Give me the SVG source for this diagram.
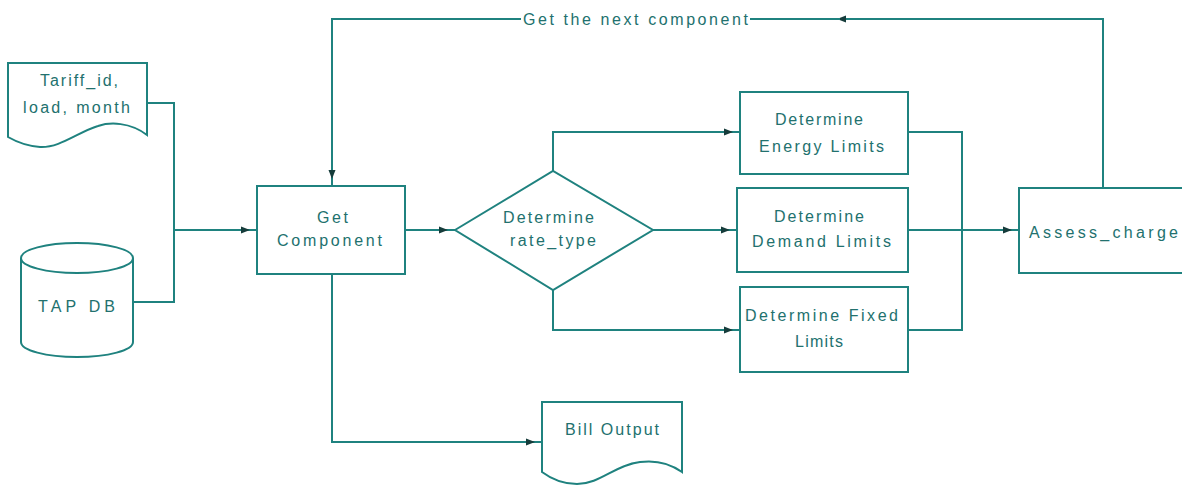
<svg xmlns="http://www.w3.org/2000/svg" width="1182" height="487" viewBox="0 0 1182 487">
<style>
.s{fill:#fff;stroke:#1f827f;stroke-width:2}
.c{fill:none;stroke:#1f827f;stroke-width:2}
.t{font-family:"Liberation Sans",Arial,sans-serif;font-size:16px;fill:#22716e}
</style>
<defs>
<marker id="a" markerUnits="userSpaceOnUse" markerWidth="18" markerHeight="10" viewBox="0 -5 18 10" refX="16" refY="0" orient="auto">
<path d="M0,-3.5 L9,0 L0,3.5 Z" fill="#163c3b"/>
</marker>
</defs>
<rect width="1182" height="487" fill="#fff"/>
<g id="connectors">
<path class="c" d="M147,103 H174 V302 H133"/>
<path class="c" d="M174,230 H257" marker-end="url(#a)"/>
<path class="c" d="M405,230 H455" marker-end="url(#a)"/>
<path class="c" d="M553,171 V132 H740" marker-end="url(#a)"/>
<path class="c" d="M653,230 H737" marker-end="url(#a)"/>
<path class="c" d="M553,290 V330 H740" marker-end="url(#a)"/>
<path class="c" d="M908,132 H962 V330 H908"/>
<path class="c" d="M908,230 H1019" marker-end="url(#a)"/>
<path class="c" d="M332,274 V442 H542" marker-end="url(#a)"/>
<path class="c" d="M1103,188 V19 H830" marker-end="url(#a)"/>
<path class="c" d="M840,19 H750"/>
<path class="c" d="M521,19 H332 V186" marker-end="url(#a)"/>
<text class="t" x="523" y="25" textLength="225" lengthAdjust="spacing">Get the next component</text>
</g>
<g id="tariff">
<path class="s" d="M8,63 H147 V135 C130,122 110,122 98,126 C78,132 60,148 40,147 C25,146 15,141 8,137 Z"/>
<text class="t" x="40" y="86" textLength="78" lengthAdjust="spacing">Tariff_id,</text>
<text class="t" x="23" y="113" textLength="107" lengthAdjust="spacing">load, month</text>
</g>
<g id="tapdb">
<path class="s" d="M21,258 V342 A56,15 0 0 0 133,342 V258 A56,15 0 0 0 21,258 Z"/>
<path class="c" d="M21,258 A56,15 0 0 0 133,258"/>
<text class="t" x="38" y="312" textLength="77" lengthAdjust="spacing">TAP DB</text>
</g>
<g id="getcomponent">
<rect class="s" x="257" y="186" width="148" height="88"/>
<text class="t" x="317" y="223" textLength="31" lengthAdjust="spacing">Get</text>
<text class="t" x="277" y="246" textLength="105" lengthAdjust="spacing">Component</text>
</g>
<g id="ratetype">
<path class="s" d="M455,230 L553,171 L653,230 L553,290 Z"/>
<text class="t" x="503" y="223" textLength="91" lengthAdjust="spacing">Determine</text>
<text class="t" x="510" y="246" textLength="86" lengthAdjust="spacing">rate_type</text>
</g>
<g id="energy">
<rect class="s" x="740" y="92" width="168" height="82"/>
<text class="t" x="775" y="125" textLength="88" lengthAdjust="spacing">Determine</text>
<text class="t" x="759" y="152" textLength="125" lengthAdjust="spacing">Energy Limits</text>
</g>
<g id="demand">
<rect class="s" x="737" y="188" width="171" height="84"/>
<text class="t" x="774" y="222" textLength="90" lengthAdjust="spacing">Determine</text>
<text class="t" x="752" y="247" textLength="139" lengthAdjust="spacing">Demand Limits</text>
</g>
<g id="fixed">
<rect class="s" x="740" y="287" width="168" height="85"/>
<text class="t" x="745" y="321" textLength="153" lengthAdjust="spacing">Determine Fixed</text>
<text class="t" x="795" y="347" textLength="48" lengthAdjust="spacing">Limits</text>
</g>
<g id="assess">
<rect class="s" x="1019" y="188" width="180" height="85"/>
<text class="t" x="1029" y="238" textLength="149" lengthAdjust="spacing">Assess_charge</text>
</g>
<g id="billoutput">
<path class="s" d="M542,402 H682 V472 C668,462 655,460 640,462 C615,465 600,484 577,484 C560,484 550,478 542,472 Z"/>
<text class="t" x="565" y="435" textLength="94" lengthAdjust="spacing">Bill Output</text>
</g>
</svg>
